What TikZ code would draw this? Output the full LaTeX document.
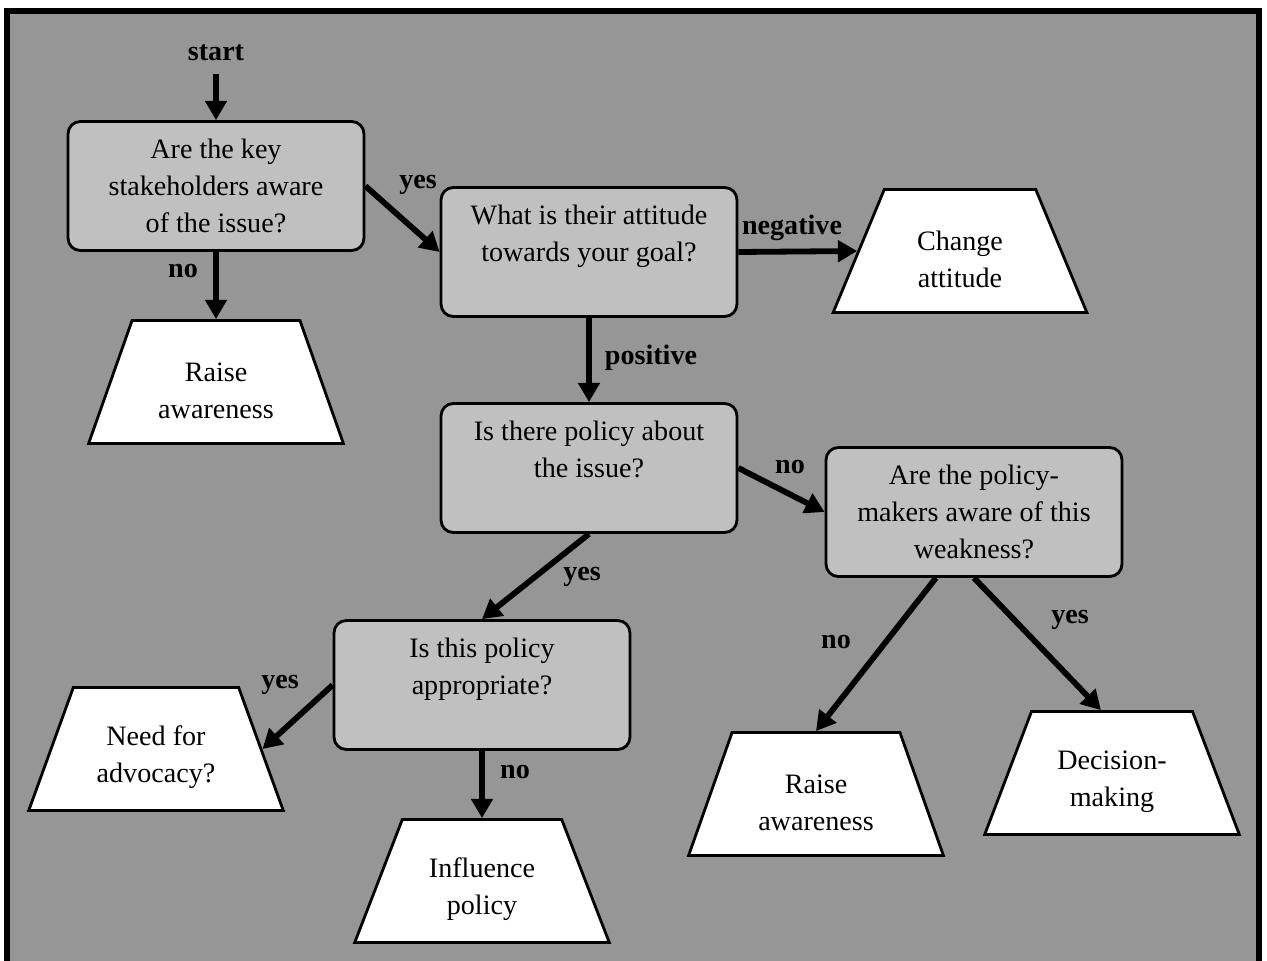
\documentclass[tikz,border=0pt]{standalone}
\usepackage{fontspec}
\setmainfont{Liberation Serif}
\usetikzlibrary{arrows.meta,shapes.geometric}
\definecolor{panelgray}{RGB}{150,150,150}
\definecolor{askgray}{RGB}{192,192,192}
\tikzset{
  ask/.style={draw, line width=1.6pt, rounded corners=7pt, fill=askgray,
    minimum width=5.92cm, minimum height=2.58cm, align=center,
    font=\fontsize{16}{21}\selectfont},
  act/.style={draw, line width=1.6pt, fill=white, trapezium,
    trapezium stretches=true, trapezium left angle=69, trapezium right angle=69,
    minimum width=5.1cm, minimum height=2.46cm, align=center,
    font=\fontsize{16}{21}\selectfont},
  tag/.style={font=\bfseries\fontsize{16}{19}\selectfont},
  flow/.style={line width=3.3pt, -{Triangle[length=11pt,width=12pt]}}
}
\begin{document}
\begin{tikzpicture}[x=0.02cm, y=-0.02cm]
      \useasboundingbox (0,0) rectangle (1267,960);
      \draw[line width=3.4pt, fill=panelgray] (7,11) rectangle (1259,975);
      % questions
      \draw
        (216,186) node[ask] (aware){Are the key\\stakeholders aware\\of the issue?}
        (589,252) node[ask] (attitude){What is their attitude\\towards your goal?\\ \mbox{}}
        (589,468) node[ask] (policy){Is there policy about\\the issue?\\ \mbox{}}
        (974,512) node[ask] (makers){Are the policy-\\makers aware of this\\weakness?}
        (482,685) node[ask] (fit){Is this policy\\appropriate?\\ \mbox{}};
      % actions
      \draw
        (216,382) node[act] (raise1){\mbox{}\\Raise\\awareness}
        (960,251) node[act] (change){\mbox{}\\Change\\attitude}
        (156,749) node[act] (need){\mbox{}\\Need for\\advocacy?}
        (482,881) node[act] (influence){\mbox{}\\Influence\\policy}
        (816,794) node[act] (raise2){\mbox{}\\Raise\\awareness}
        (1112,773) node[act] (decide){\mbox{}\\Decision-\\making};
      % labels
      \draw
        (216,53) node[tag] (start){start}
        (418,185) node[tag] (y1){yes}
        (183,271) node[tag] (n1){no}
        (792,228) node[tag] (neg){negative}
        (651,358) node[tag] (pos){positive}
        (790,467) node[tag] (n2){no}
        (582,577) node[tag] (y2){yes}
        (836,642) node[tag] (n3){no}
        (1070,620) node[tag] (y3){yes}
        (280,685) node[tag] (y4){yes}
        (515,772) node[tag] (n4){no};
      \begin{scope}[flow]
        \draw[shorten <=4pt] (start.south) to (aware.north);
        \draw (aware.south) to (raise1.north);
        \draw (aware.east) to (attitude.west);
        \draw (attitude.east) to (change.west);
        \draw (attitude.south) to (policy.north);
        \draw (policy.east) to (makers.west);
        \draw (policy.south) to (fit.north);
        \draw (makers.240) to (raise2.north);
        \draw (makers.south) to (decide.100);
        \draw (fit.west) to (need.east);
        \draw (fit.south) to (influence.north);
      \end{scope}
    \end{tikzpicture}
\end{document}
